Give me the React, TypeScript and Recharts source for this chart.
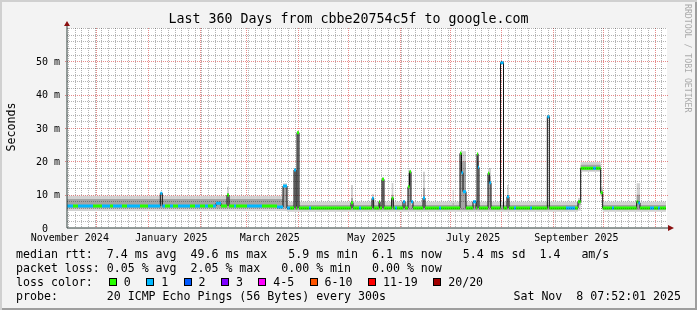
import { Area, CartesianGrid, ComposedChart, Line, XAxis, YAxis } from "recharts";

const FONT = "'DejaVu Sans Mono', monospace";
const MINOR = "#b4b4b4";
const MAJOR = "#e88a8a";
const AXIS = "#2c3c38";
const ARROW = "#8a1010";

// plot box: 600 x 200 px, like the rrdtool canvas
const PLOT_LEFT = 67;
const PLOT_TOP = 28;
const PLOT_W = 600;
const PLOT_H = 200;

// graph window: 360 days ending at the probe timestamp
const END = Date.UTC(2025, 10, 8, 7, 52, 1);
const START = END - 360 * 86400000;
const dayOf = (iso: string) => (Date.parse(iso + "T00:00:00Z") - START) / 86400000;
const X_MAX = 360;
const Y_MAX = 60;

const monthStarts = [
  "2024-12-01", "2025-01-01", "2025-02-01", "2025-03-01", "2025-04-01", "2025-05-01",
  "2025-06-01", "2025-07-01", "2025-08-01", "2025-09-01", "2025-10-01", "2025-11-01",
];
const labelDates = ["2024-11-15", "2025-01-15", "2025-03-15", "2025-05-15", "2025-07-15", "2025-09-15"];
const monthLabels = ["November 2024", "January 2025", "March 2025", "May 2025", "July 2025", "September 2025"];

const yTicks = [0, 10, 20, 30, 40, 50];
const yTickLabels = ["0  ", "10 m", "20 m", "30 m", "40 m", "50 m"];

const lossLabels = ["0", "1", "2", "3", "4-5", "6-10", "11-19", "20/20"];
const lossColors = ["#26ff00", "#00b8ff", "#0059ff", "#7e00ff", "#ff00ff", "#ff5500", "#ff0000", "#a10000"];

const DATA_END = 359.4;

// [start day, median rtt ms, lost pings]
const medianRuns: [number, number, number][] = [
  [0, 6.6, 1], [3.6, 6.6, 0], [6.6, 6.6, 1], [15.6, 6.6, 0], [21, 6.6, 1], [25.8, 6.6, 0],
  [27.6, 6.6, 1], [33, 6.6, 0], [36, 6.6, 1], [43.8, 6.6, 0], [48.6, 6.6, 1], [56.0, 10.4, 1],
  [57.2, 6.6, 1], [58.8, 6.6, 0], [61.8, 6.6, 1], [63.6, 6.6, 0], [66.6, 6.6, 1], [73.8, 6.6, 0],
  [76.8, 6.6, 1], [79.8, 6.6, 0], [82.8, 6.6, 1], [84.6, 6.6, 0], [87.6, 6.6, 1], [89.4, 7.4, 1],
  [92.4, 6.6, 0], [96.0, 9.9, 0], [97.2, 6.6, 0], [100.2, 6.6, 1], [101.4, 6.6, 0], [108, 6.6, 1],
  [117, 6.6, 0], [126, 6.3, 1], [129.6, 12.6, 1], [132, 6.0, 1], [133.8, 6.0, 0], [136.2, 17.4, 1],
  [137.4, 6.0, 0], [138, 28.6, 0], [139.2, 6.0, 0], [145.2, 6.0, 1], [146.4, 6.0, 0], [170.4, 7.6, 0],
  [171.6, 6.0, 0], [175.2, 6.0, 1], [176.4, 6.0, 0], [183, 8.9, 1], [184, 6.0, 0], [187.2, 7.9, 0],
  [187.8, 6.0, 0], [189, 14.6, 0], [190.2, 6.0, 0], [194.8, 8.9, 0], [195.8, 6.0, 0], [196.8, 6.0, 1],
  [198, 6.0, 0], [201.6, 7.9, 1], [202.8, 6.0, 0], [204.6, 12.4, 0], [205.5, 16.9, 0], [206.4, 7.9, 1],
  [207.6, 6.0, 0], [213.6, 9.0, 1], [214.8, 6.0, 0], [223.2, 6.0, 1], [224.4, 6.0, 0], [235.8, 22.4, 0],
  [236.7, 16.6, 1], [237.6, 10.9, 1], [239.4, 6.0, 0], [243.6, 7.9, 1], [245.4, 6.0, 0], [246, 22.2, 0],
  [246.6, 18.2, 1], [247.2, 6.0, 0], [252.6, 16.4, 0], [253.4, 13.6, 1], [254.4, 6.0, 0], [260.1, 49.6, 1],
  [261.9, 6.0, 0], [264, 9.4, 1], [265.2, 6.0, 0], [268.2, 6.0, 1], [269.4, 6.0, 0], [277.8, 6.0, 1],
  [279, 6.0, 0], [288.2, 33.4, 1], [289.4, 6.0, 0], [299.4, 6.0, 1], [304.8, 6.0, 0], [306.6, 7.9, 0],
  [308.2, 17.9, 0], [315.6, 17.9, 1], [317.4, 17.9, 0], [320.2, 10.6, 0], [321.4, 6.0, 0], [327, 6.0, 1],
  [328.2, 6.0, 0], [341.8, 7.9, 0], [342.8, 7.5, 1], [343.8, 6.0, 0], [349.8, 6.0, 1], [352.2, 6.0, 0],
  [354.6, 6.0, 1], [355.8, 6.0, 0],
];

// [start day, smoke low, smoke high, core low, core high] in ms
const smokeRuns: [number, number, number, number, number][] = [
  [0, 5.1, 9.7, 5.9, 8.7], [96, 5.1, 12.4, 5.9, 10.5], [97.2, 5.1, 9.7, 5.9, 8.7],
  [129.6, 5.1, 13.4, 5.9, 12.8], [132, 4.9, 7.9, 5.4, 6.9], [136.2, 4.9, 17.8, 5.4, 17.4],
  [137.4, 4.9, 7.9, 5.4, 6.9], [138, 4.9, 29.2, 5.4, 28.6], [139.2, 4.9, 7.9, 5.4, 6.9],
  [170.4, 4.9, 12.9, 5.4, 9.0], [171.6, 4.9, 7.9, 5.4, 6.9], [183, 4.9, 10.2, 5.4, 9.0],
  [184, 4.9, 7.9, 5.4, 6.9], [189, 4.9, 15.2, 5.4, 14.6], [190.2, 4.9, 7.9, 5.4, 6.9],
  [194.8, 4.9, 13.5, 5.4, 10.0], [195.8, 4.9, 7.9, 5.4, 6.9], [204.6, 4.9, 17.5, 5.4, 16.4],
  [206.4, 4.9, 7.9, 5.4, 6.9], [213.6, 4.9, 16.9, 5.4, 12.0], [214.8, 4.9, 7.9, 5.4, 6.9],
  [231.4, 4.9, 11.4, 5.4, 7.5], [232, 4.9, 7.9, 5.4, 6.9], [235.8, 4.9, 23.0, 5.4, 20.0],
  [239.4, 4.9, 7.9, 5.4, 6.9], [246, 4.9, 22.6, 5.4, 20.0], [247.2, 4.9, 7.9, 5.4, 6.9],
  [252.6, 4.9, 18.0, 5.4, 15.5], [254.4, 4.9, 7.9, 5.4, 6.9], [264, 4.9, 12.9, 5.4, 9.8],
  [265.2, 4.9, 7.9, 5.4, 6.9], [306.6, 5.2, 9.0, 6.8, 8.4], [308.2, 16.9, 19.8, 17.3, 19.0],
  [320.2, 9.5, 12.5, 10.0, 11.5], [321.4, 4.9, 7.9, 5.4, 6.9], [341.8, 4.9, 13.4, 5.4, 10.0],
  [343.8, 4.9, 7.9, 5.4, 6.9],
];

const rttLine = "median rtt:  7.4 ms avg  49.6 ms max   5.9 ms min  6.1 ms now   5.4 ms sd  1.4   am/s";
const lossLine = "packet loss: 0.05 % avg  2.05 % max   0.00 % min   0.00 % now";
const probeLine = "probe:       20 ICMP Echo Pings (56 Bytes) every 300s";
const stamp = "Sat Nov  8 07:52:01 2025";

const runEnd = (runs: number[][], i: number) => (i + 1 < runs.length ? runs[i + 1][0] : DATA_END);

const medianPts = medianRuns.flatMap(([d, ms], i) => [
  { d, v: ms },
  { d: runEnd(medianRuns, i), v: ms },
]);
const lossPts = (n: number) =>
  medianRuns.flatMap(([d, ms, loss], i) =>
    loss === n
      ? [
          { d, v: ms },
          { d: runEnd(medianRuns, i), v: ms },
          { d: runEnd(medianRuns, i), v: null },
        ]
      : []
  );
const outerSmoke = smokeRuns.flatMap(([d, lo, hi], i) => [
  { d, r: [lo, hi] },
  { d: runEnd(smokeRuns, i), r: [lo, hi] },
]);
const coreSmoke = smokeRuns.flatMap(([d, , , lo, hi], i) => [
  { d, r: [lo, hi] },
  { d: runEnd(smokeRuns, i), r: [lo, hi] },
]);

const monthDays = monthStarts.map(dayOf);
const labelDays = labelDates.map(dayOf);
const minorX: number[] = [];
for (let d = dayOf("2024-11-14"); d < X_MAX; d += 4) minorX.push(d);
const minorY: number[] = [];
for (let v = 2; v <= Y_MAX; v += 2) if (v % 10 !== 0 || v === Y_MAX) minorY.push(v);
const majorY = [10, 20, 30, 40, 50];

// horizontal grid rows, centred in whole pixel rows
const rowOf = (v: number) => Math.round(PLOT_TOP + PLOT_H * (1 - v / Y_MAX)) + 0.5;
const gridX = (values: number[]) => ({ offset }: any) =>
  values.map((v) => Math.round(offset.left + (offset.width * v) / X_MAX) + 0.5);

function YTick(props: any) {
  const { x, y, payload } = props;
  return (
    <text x={x} y={y} dy={3.5} textAnchor="end" fontSize={10} fontFamily={FONT} fill="#000" style={{ whiteSpace: "pre" }}>
      {yTickLabels[yTicks.indexOf(payload.value)]}
    </text>
  );
}

const textRow = (top: number) => ({
  position: "absolute" as const,
  left: 16,
  top,
  height: 14,
  lineHeight: "14px",
  fontSize: 11.6,
  fontFamily: FONT,
  whiteSpace: "pre" as const,
  color: "#000",
});

export default function App() {
  return (
    <div
      style={{
        position: "absolute",
        left: 0,
        top: 0,
        width: 697,
        height: 310,
        background: "#f3f3f3",
        boxShadow: "inset 2px 2px 0 #d0d0d0, inset -2px -2px 0 #9e9e9e",
        overflow: "hidden",
      }}
    >
      <svg width={697} height={310} style={{ position: "absolute", left: 0, top: 0 }}>
        <rect x={PLOT_LEFT} y={PLOT_TOP} width={PLOT_W} height={PLOT_H} fill="#ffffff" />
      </svg>

      <div
        style={{
          position: "absolute",
          left: 0,
          top: 11.4,
          width: 697,
          textAlign: "center",
          fontSize: 13.3,
          lineHeight: "16px",
          fontFamily: FONT,
          whiteSpace: "pre",
        }}
      >
        Last 360 Days from cbbe20754c5f to google.com
      </div>
      <div
        style={{
          position: "absolute",
          left: -39.5,
          top: 120,
          width: 100,
          height: 14,
          lineHeight: "14px",
          textAlign: "center",
          fontSize: 11.6,
          fontFamily: FONT,
          transform: "rotate(-90deg)",
        }}
      >
        Seconds
      </div>
      <div
        style={{
          position: "absolute",
          left: 682.5,
          top: 4,
          width: 10,
          lineHeight: "10px",
          fontSize: 8.2,
          fontFamily: FONT,
          color: "#aaaaaa",
          writingMode: "vertical-rl",
          whiteSpace: "pre",
        }}
      >
        RRDTOOL / TOBI OETIKER
      </div>

      <div style={{ position: "absolute", left: 0, top: 0 }}>
        <ComposedChart width={697} height={310} margin={{ top: PLOT_TOP, right: 697 - PLOT_LEFT - PLOT_W, bottom: 0, left: 0 }}>
          <CartesianGrid stroke={MINOR} strokeDasharray="1 1" horizontal={false} verticalCoordinatesGenerator={gridX(minorX)} />
          <CartesianGrid stroke={MAJOR} strokeDasharray="1 1" horizontal={false} verticalCoordinatesGenerator={gridX(monthDays)} />
          <XAxis
            type="number"
            dataKey="d"
            domain={[0, X_MAX]}
            allowDataOverflow
            ticks={labelDays}
            interval={0}
            tickFormatter={(v: number) => monthLabels[labelDays.indexOf(v)]}
            height={310 - PLOT_TOP - PLOT_H}
            tickLine={false}
            tickSize={3}
            tickMargin={3}
            axisLine={{ stroke: AXIS }}
            tick={{ fontSize: 10, fontFamily: FONT, fill: "#000" }}
          />
          <YAxis
            type="number"
            domain={[0, Y_MAX]}
            allowDataOverflow
            ticks={yTicks}
            interval={0}
            width={PLOT_LEFT}
            tick={<YTick />}
            tickLine={false}
            tickSize={3}
            tickMargin={4}
            axisLine={{ stroke: AXIS }}
          />
          <Area data={outerSmoke} dataKey="r" type="linear" stroke="none" fill="#d2d2d2" fillOpacity={1} isAnimationActive={false} />
          <Area data={coreSmoke} dataKey="r" type="linear" stroke="none" fill="#a4a4a4" fillOpacity={1} isAnimationActive={false} />
          <Line data={medianPts} dataKey="v" type="linear" stroke="#111" strokeWidth={1} dot={false} activeDot={false} isAnimationActive={false} />
          <Line data={lossPts(0)} dataKey="v" type="linear" stroke={lossColors[0]} strokeWidth={3} dot={false} activeDot={false} connectNulls={false} isAnimationActive={false} />
          <Line data={lossPts(1)} dataKey="v" type="linear" stroke={lossColors[1]} strokeWidth={3} dot={false} activeDot={false} connectNulls={false} isAnimationActive={false} />
        </ComposedChart>
      </div>

      <svg
        width={697}
        height={310}
        style={{ position: "absolute", left: 0, top: 0, pointerEvents: "none", mixBlendMode: "multiply" }}
      >
        {minorY.map((v) => (
          <line
            key={`mi${v}`}
            x1={PLOT_LEFT}
            x2={PLOT_LEFT + PLOT_W}
            y1={rowOf(v)}
            y2={rowOf(v)}
            stroke={MINOR}
            strokeWidth={1}
            strokeDasharray="1 1"
          />
        ))}
        {majorY.map((v) => (
          <line
            key={`ma${v}`}
            x1={PLOT_LEFT - 2}
            x2={PLOT_LEFT + PLOT_W + 2}
            y1={rowOf(v)}
            y2={rowOf(v)}
            stroke={MAJOR}
            strokeWidth={1}
            strokeDasharray="1 1"
          />
        ))}
      </svg>

      <svg width={697} height={310} style={{ position: "absolute", left: 0, top: 0, pointerEvents: "none" }}>
        <line x1={PLOT_LEFT} y1={25} x2={PLOT_LEFT} y2={PLOT_TOP} stroke={AXIS} />
        <line x1={PLOT_LEFT + PLOT_W} y1={228} x2={PLOT_LEFT + PLOT_W + 2} y2={228} stroke={AXIS} />
        <polygon points="64,26 70,26 67,21" fill={ARROW} />
        <polygon points="668,225 668,231 674,228" fill={ARROW} />
      </svg>

      <div style={textRow(246.7)}>{rttLine}</div>
      <div style={textRow(261)}>{lossLine}</div>
      <div style={{ ...textRow(275), display: "flex", alignItems: "center" }}>
        <span>{"loss color:  "}</span>
        {lossLabels.map((label, i) => (
          <span key={label} style={{ display: "flex", alignItems: "center" }}>
            <span
              style={{
                display: "inline-block",
                width: 8,
                height: 8,
                boxSizing: "border-box",
                border: "1px solid #000",
                background: lossColors[i],
                marginLeft: i === 0 ? 2 : 0,
                marginRight: 7,
              }}
            />
            <span style={{ marginRight: 15.4 }}>{label}</span>
          </span>
        ))}
      </div>
      <div style={textRow(288.7)}>{probeLine}</div>
      <div style={{ ...textRow(288.7), left: "auto", right: 16 }}>{stamp}</div>
    </div>
  );
}
